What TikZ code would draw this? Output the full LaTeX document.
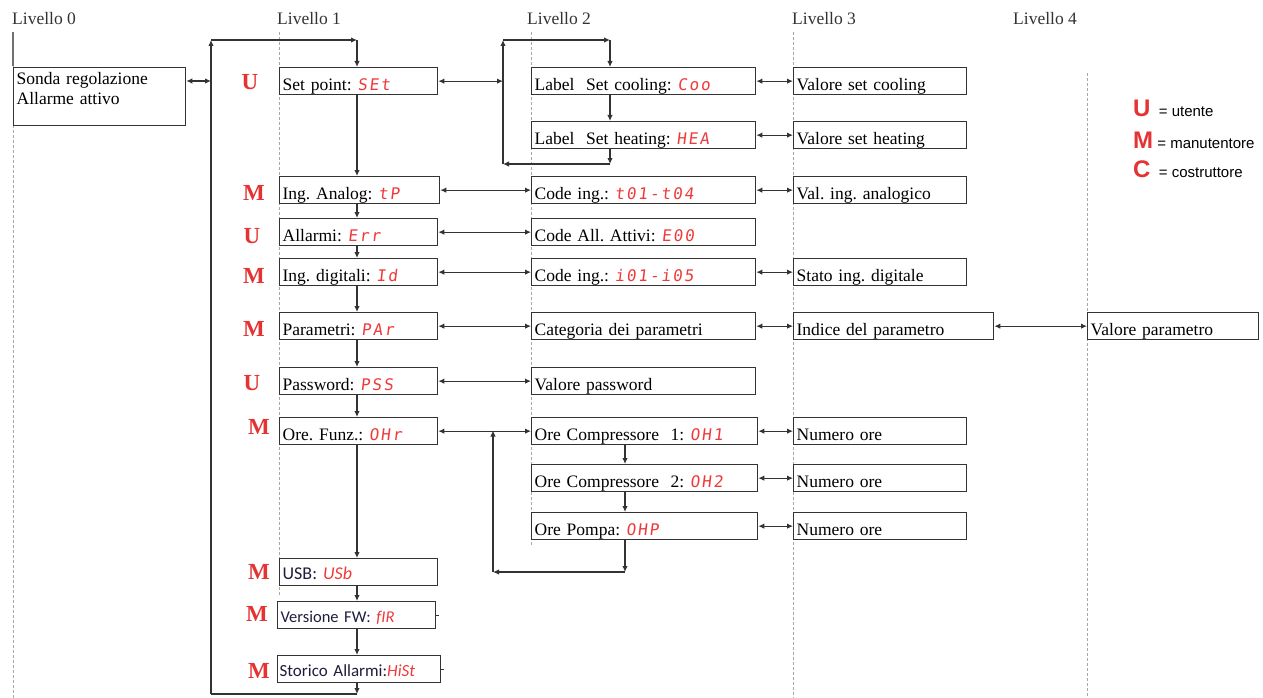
\documentclass[tikz,border=0pt]{standalone}
\usepackage{fontspec}
\setmainfont{Liberation Serif}
\newfontfamily\segf{DejaVu Sans Mono}[FakeSlant=0.12,LetterSpace=12]
\newfontfamily\calfont{Carlito}
\newfontfamily\arialf{Liberation Sans}
\usetikzlibrary{arrows.meta}
\definecolor{segred}{HTML}{EE3A3A}
\definecolor{rolered}{HTML}{E53333}
\definecolor{linec}{HTML}{333333}
\definecolor{dashc}{HTML}{A8A8A8}
\definecolor{navy}{HTML}{1E1E3C}
\newcommand\sg[1]{{\segf\fontsize{16}{16}\selectfont\color{segred}#1}}
\newcommand\crd[1]{{\color{segred}\itshape #1}}
\frenchspacing
\tikzset{
  box/.style={draw=linec, line width=1.3pt, inner xsep=3pt, inner ysep=0pt,
    minimum height=27pt, align=left, anchor=north west, text height=19pt, text depth=0pt,
    font=\fontsize{17.5}{20}\selectfont},
  cbox/.style={box, text height=15pt, font=\calfont\fontsize{18}{20}\selectfont, text=navy},
  role/.style={anchor=base, text=rolered, font=\bfseries\fontsize{23}{23}\selectfont, inner sep=0pt},
  lev/.style={anchor=base west, inner sep=0pt, text=linec, font=\fontsize{17.5}{20}\selectfont},
  conn/.style={draw=linec, line width=1.2pt},
  tip/.tip={Latex[length=6pt,width=5.5pt]},
  arr/.style={conn, -tip},
  darr/.style={conn, tip-tip},
  guide/.style={draw=dashc, line width=1pt, dash pattern=on 3pt off 2pt},
  leg/.style={anchor=base west, inner sep=0pt, font=\arialf\fontsize{15}{15}\selectfont},
}
\begin{document}
\begin{tikzpicture}[x=1pt,y=-1pt]
\useasboundingbox (0,0) rectangle (1263,698);
\fill[white] (0,0) rectangle (1263,698);

% level guides
\draw[guide] (13,65) -- (13,698);
\draw[draw=linec!70, line width=1.2pt] (13,32) -- (13,66);
\draw[guide] (279,32) -- (279,595);
\draw[guide] (531,32) -- (531,545);
\draw[guide] (793,32) -- (793,698);
\draw[guide] (1087,73) -- (1087,698);

% headers
\node[lev] (h0) at (12,25) {Livello 0};
\node[lev] (h1) at (277,25) {Livello 1};
\node[lev] (h2) at (527,25) {Livello 2};
\node[lev] (h3) at (792,25) {Livello 3};
\node[lev] (h4) at (1013,25) {Livello 4};

% level 0
\node[draw=linec, line width=1.3pt, anchor=north west, minimum width=172pt, minimum height=58pt,
  text width=166pt, inner xsep=3pt, inner ysep=0pt, align=left, font=\fontsize{17.5}{20.5}\selectfont]
  (sonda) at (13,67) {Sonda regolazione\\Allarme attivo\\[-4pt]\rule{0pt}{1pt}};

% level 1
\node[box, text width=152pt] (sp)  at (279,67)  {Set point: \sg{SEt}};
\node[box, text width=154pt] (ia)  at (279,176) {Ing. Analog: \sg{tP}};
\node[box, text width=152pt] (al)  at (279,218) {Allarmi: \sg{Err}};
\node[box, text width=152pt] (id)  at (279,258) {Ing. digitali: \sg{Id}};
\node[box, text width=152pt] (par) at (279,312) {Parametri: \sg{PAr}};
\node[box, text width=152pt] (pw)  at (279,367) {Password: \sg{PSS}};
\node[box, text width=152pt] (ore) at (279,417) {Ore. Funz.: \sg{OHr}};
\node[cbox, text width=152pt] (usb) at (279,558) {USB: \crd{USb}};
\node[cbox, text width=152pt, font=\calfont\fontsize{16.5}{20}\selectfont] (fw) at (277,601) {Versione FW: \crd{fIR}};
\node[cbox, font=\calfont\fontsize{17}{20}\selectfont, inner xsep=2pt, text width=159pt] (hist) at (277,655) {Storico Allarmi:\crd{HiSt}};

% level 2
\node[box, text width=218pt] (cool) at (531,67)  {Label\ \ Set cooling: \sg{Coo}};
\node[box, text width=218pt] (heat) at (531,121) {Label\ \ Set heating: \sg{HEA}};
\node[box, text width=218pt] (ci)   at (531,176) {Code ing.: \sg{t01-t04}};
\node[box, text width=218pt] (ca)   at (531,218) {Code All. Attivi: \sg{E00}};
\node[box, text width=218pt] (cd)   at (531,258) {Code ing.: \sg{i01-i05}};
\node[box, text width=218pt] (cat)  at (531,312) {Categoria dei parametri};
\node[box, text width=218pt] (vpw)  at (531,367) {Valore password};
\node[box, text width=220pt] (oc1)  at (531,417) {Ore Compressore\ \ 1: \sg{OH1}};
\node[box, text width=220pt] (oc2)  at (531,464) {Ore Compressore\ \ 2: \sg{OH2}};
\node[box, text width=220pt] (op)   at (531,512) {Ore Pompa: \sg{OHP}};

% level 3
\node[box, text width=167pt] (vsc) at (793,67)  {Valore set cooling};
\node[box, text width=167pt] (vsh) at (793,121) {Valore set heating};
\node[box, text width=167pt] (via) at (793,176) {Val. ing. analogico};
\node[box, text width=167pt] (sid) at (793,258) {Stato ing. digitale};
\node[box, text width=194pt] (ind) at (793,312) {Indice del parametro};
\node[box, text width=167pt] (n1)  at (793,417) {Numero ore};
\node[box, text width=167pt] (n2)  at (793,464) {Numero ore};
\node[box, text width=167pt] (n3)  at (793,512) {Numero ore};

% level 4
\node[box, text width=165pt] (vpar) at (1087,312) {Valore parametro};

% role letters
\node[role] (r1)  at (250,90)  {U};
\node[role] (r2)  at (254,200) {M};
\node[role] (r3)  at (252,243) {U};
\node[role] (r4)  at (254,283) {M};
\node[role] (r5)  at (254,336) {M};
\node[role] (r6)  at (252,390) {U};
\node[role] (r7)  at (259,434) {M};
\node[role] (r8)  at (259,579) {M};
\node[role] (r9)  at (257,621) {M};
\node[role] (r10) at (259,678) {M};

% legend
\node[leg] (lg1) at (1133,117) {{\color{rolered}\bfseries\fontsize{24}{24}\selectfont U}\ \ = utente};
\node[leg] (lg2) at (1133,148) {{\color{rolered}\bfseries\fontsize{24}{24}\selectfont M}\ = manutentore};
\node[leg] (lg3) at (1133,177) {{\color{rolered}\bfseries\fontsize{24}{24}\selectfont C}\ \ = costruttore};

% coordinates
\coordinate (V)   at (357,0);
\coordinate (L0)  at (211,40);
\coordinate (L1)  at (357,40);
\coordinate (Lb0) at (211,694);
\coordinate (Lb1) at (357,694);
\coordinate (R0)  at (503,40);
\coordinate (R1)  at (610,40);
\coordinate (Rb0) at (503,164);
\coordinate (Rb1) at (610,164);
\coordinate (O0)  at (493,430.5);
\coordinate (Ob0) at (493,572);
\coordinate (Ob1) at (625,572);
\coordinate (Sm)  at (211,81);

% main loop on level 1
\draw[darr] (sonda.east |- Sm) -- (Sm);
\draw[arr] (hist.south -| V) -- (Lb1);
\draw[conn] (Lb1) -- (Lb0);
\draw[arr] (Lb0) -- (L0);
\draw[arr] (L0) -- (L1);
\draw[arr] (L1) -- (sp.north -| V);
\draw[arr] (sp.south -| V) -- (ia.north -| V);
\draw[arr] (ia.south -| V) -- (al.north -| V);
\draw[arr] (al.south -| V) -- (id.north -| V);
\draw[arr] (id.south -| V) -- (par.north -| V);
\draw[arr] (par.south -| V) -- (pw.north -| V);
\draw[arr] (pw.south -| V) -- (ore.north -| V);
\draw[arr] (ore.south -| V) -- (usb.north -| V);
\draw[arr] (usb.south -| V) -- (fw.north -| V);
\draw[arr] (fw.south -| V) -- (hist.north -| V);
\draw[conn] (fw.east) -- ++(3,0);
\draw[conn] (hist.east) -- ++(3,0);

% set point loop on level 2
\draw[darr] (sp.east) -- (sp.east -| R0);
\draw[arr] (Rb0) -- (R0);
\draw[arr] (R0) -- (R1);
\draw[arr] (R1) -- (cool.north -| R1);
\draw[arr] (cool.south -| R1) -- (heat.north -| R1);
\draw[arr] (heat.south -| R1) -- (Rb1);
\draw[arr] (Rb1) -- (Rb0);

% level 1 <-> level 2
\draw[darr] (ia.east |- ci.east) -- (ci.west);
\draw[darr] (al.east) -- (ca.west);
\draw[darr] (id.east) -- (cd.west);
\draw[darr] (par.east) -- (cat.west);
\draw[darr] (pw.east) -- (vpw.west);
\draw[darr] (ore.east) -- (oc1.west);

% hours loop
\draw[arr] (Ob0) -- (O0);
\draw[arr] (oc1.south -| Ob1) -- (oc2.north -| Ob1);
\draw[arr] (oc2.south -| Ob1) -- (op.north -| Ob1);
\draw[arr] (op.south -| Ob1) -- (Ob1);
\draw[arr] (Ob1) -- (Ob0);

% level 2 <-> level 3
\draw[darr] (cool.east) -- (vsc.west);
\draw[darr] (heat.east) -- (vsh.west);
\draw[darr] (ci.east) -- (via.west);
\draw[darr] (cd.east) -- (sid.west);
\draw[darr] (cat.east) -- (ind.west);
\draw[darr] (oc1.east) -- (n1.west);
\draw[darr] (oc2.east) -- (n2.west);
\draw[darr] (op.east) -- (n3.west);

% level 3 <-> level 4
\draw[darr] (ind.east) -- (vpar.west);
\end{tikzpicture}
\end{document}
